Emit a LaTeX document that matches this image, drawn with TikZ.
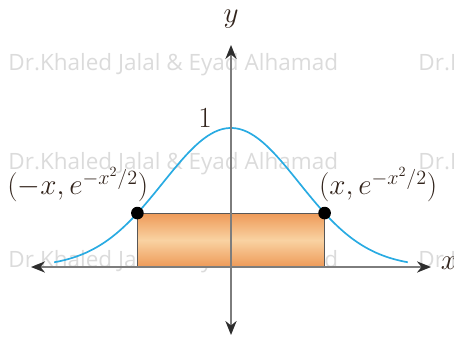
\documentclass[tikz,border=0pt]{standalone}
\usepackage{fontspec}
\newfontfamily\wmfont{Open Sans}
\usepackage{amsmath}
\usepackage{xcolor}
\definecolor{curveblue}{RGB}{41,171,226}
\definecolor{axisgray}{RGB}{125,125,125}
\definecolor{tipgray}{RGB}{45,45,45}
\definecolor{labelbrown}{RGB}{50,36,28}
\definecolor{boxorange}{RGB}{238,154,88}
\definecolor{boxlight}{RGB}{249,210,162}
\usetikzlibrary{arrows.meta}

\begin{document}
\begin{tikzpicture}[
    axis/.style={<->, >={Stealth[length=10pt, width=8pt, color=tipgray]}, axisgray, line width=1pt},
    curve/.style={curveblue, line width=1.2pt},
    dot/.style={circle, fill=black, minimum size=9pt, inner sep=0},
    label/.style={labelbrown, font=\fontsize{20}{24}\selectfont},
    wmark/.style={gray!28, font=\wmfont\fontsize{16}{19}\selectfont, inner sep=0, anchor=west},
]
\useasboundingbox (-5.775,-1.75) rectangle (5.575,6.675);

%% --- watermark ---
\foreach \row [count=\i] in {5.05, 2.58, 0.13}{
    \node[wmark] (wmL\i) at (-5.57,\row) {Dr.Khaled Jalal \& Eyad Alhamad};
    \node[wmark] (wmR\i) at (4.68,\row) {Dr.Khaled Jalal \& Eyad Alhamad};
}

%% --- points on the curve ---
\coordinate (O) at (0,0);
\coordinate (q) at (-2.34,1.348);
\coordinate (p) at (2.34,1.348);

%% --- rectangle ---
\shade[top color=boxorange, bottom color=boxorange, middle color=boxlight]
    (q |- O) rectangle (p);
\draw[tipgray!80, line width=0.8pt] (q |- O) rectangle (p);

%% --- bell curve ---
\draw[curve, domain=-2.6:2.6, samples=100, smooth]
    plot ({1.7*\x}, {3.475*exp(-\x*\x/2)});

%% --- axes ---
\coordinate (xl) at (-5.0,0);
\coordinate (xr) at (5.0,0);
\coordinate (yb) at (0,-1.7);
\coordinate (yt) at (0,5.55);
\draw[axis] (xl) -- (xr);
\draw[axis] (yb) -- (yt);

%% --- dots ---
\node[dot] (Q) at (q) {};
\node[dot] (P) at (p) {};

%% --- labels ---
\node[label] (ylab) at (0,6.2) {$y$};
\node[label] (xlab) at (5.45,0.1) {$x$};
\node[label] (one) at (-0.65,3.72) {$1$};
\node[label] (Qlab) at (-3.83,2.05) {$(-x, e^{-x^2/2})$};
\node[label] (Plab) at (3.68,2.05) {$(x, e^{-x^2/2})$};

\end{tikzpicture}
\end{document}
